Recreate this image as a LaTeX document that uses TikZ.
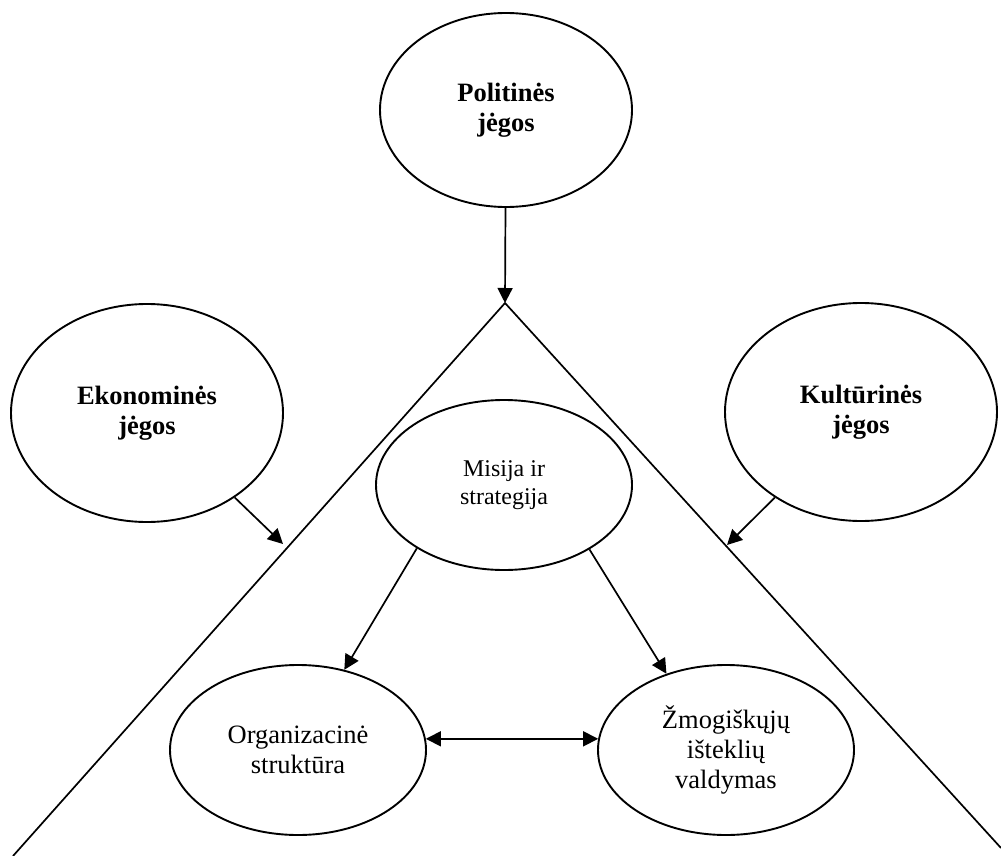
\documentclass[tikz,border=0pt]{standalone}
\usepackage{fontspec}
\setmainfont{Liberation Serif}
\usetikzlibrary{arrows.meta,shapes.geometric}
\begin{document}
\begin{tikzpicture}[x=1pt,y=-1pt,
  head/.tip={Triangle[length=15pt,width=15pt]},
  force/.style={ellipse,draw,line width=1.9pt,inner sep=0pt,
    minimum width=272pt,minimum height=218pt,align=center,
    font=\bfseries\fontsize{26.5}{30}\selectfont},
  unit/.style={ellipse,draw,line width=1.9pt,inner sep=0pt,
    minimum width=256pt,minimum height=170pt,align=center,
    font=\fontsize{26.5}{30}\selectfont},
  edge/.style={line width=1.7pt},
  link/.style={line width=1.7pt,-head},
  both/.style={line width=1.7pt,head-head}]
\useasboundingbox (0,0) rectangle (1001,856);

% outer forces
\node[force,minimum width=252pt,minimum height=194pt] (pol) at (506,110) {Politinės\\jėgos};
\node[force] (eko) at (147,413) {Ekonominės\\jėgos};
\node[force] (kul) at (861,412) {Kultūrinės\\jėgos};

% organisation core
\node[unit,font=\fontsize{24}{28}\selectfont] (mis) at (504,485) {Misija ir\\strategija};
\node[unit] (org) at (298,750) {Organizacinė\\struktūra};
\node[unit] (zmo) at (726,750) {Žmogiškųjų\\išteklių\\valdymas};

% the triangle frame
\coordinate (apex) at (505,303);
\coordinate (leftend) at (13,856);
\coordinate (rightend) at (1001,848);
\coordinate (ekotip) at (283,544);
\coordinate (kultip) at (727,545);
\draw[edge] (leftend) -- (apex) -- (rightend);

% influences
\draw[link] (pol) -- (apex);
\draw[link] (eko) -- (ekotip);
\draw[link] (kul) -- (kultip);
\draw[link] (mis.216) -- (org.60);
\draw[link] (mis.323) -- (zmo.128);
\draw[both] (org.5) -- (zmo.175);
\end{tikzpicture}
\end{document}
